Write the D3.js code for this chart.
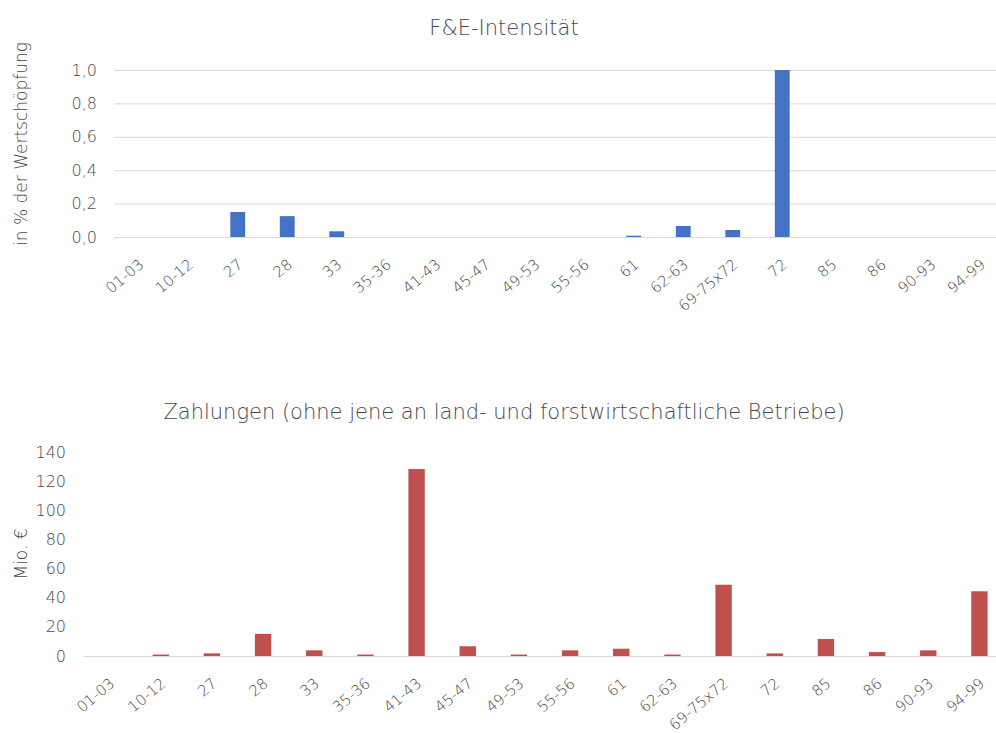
<!DOCTYPE html>
<html>
<head>
<meta charset="utf-8">
<script src="https://cdn.jsdelivr.net/npm/d3@7"></script>
<style>
    body { margin: 0; background: #fff; }
    text { font-family: "DejaVu Sans", sans-serif; font-weight: 200; fill: #484848; }
</style>
</head>
<body>
<div id="graphContainer"></div>
<script>
"use strict";
(function () {
    // branch codes shared by both charts
    const categories = ["01-03", "10-12", "27", "28", "33", "35-36", "41-43", "45-47", "49-53",
        "55-56", "61", "62-63", "69-75x72", "72", "85", "86", "90-93", "94-99"]
    // F&E-Intensität, in % der Wertschöpfung
    const intensity = [0, 0, 0.15, 0.125, 0.034, 0, 0, 0, 0, 0, 0.008, 0.066, 0.042, 1.0, 0, 0, 0, 0]
    // Zahlungen, Mio. €
    const payments = [0, 1, 1.8, 15.2, 3.9, 1, 128.3, 6.7, 1, 3.9, 5, 1, 48.9, 1.8, 11.7, 2.7, 3.9, 44.4]
    const intensityTicks = [0, 0.2, 0.4, 0.6, 0.8, 1.0]
    const paymentTicks = [0, 20, 40, 60, 80, 100, 120, 140]

    const svg = d3.select('#graphContainer').append('svg')
        .attr('width', 996)
        .attr('height', 733)

    const comma = d3.format(".1f")

    drawChart({
        title: "F&E-Intensität", titleY: 35,
        yLabel: "in % der Wertschöpfung", yLabelX: 27, yLabelY: 144,
        left: 114, right: 1005, top: 70, bottom: 237,
        domain: [0, 1], ticks: intensityTicks, tickFmt: d => comma(d).replace(".", ","),
        tickX: 97, values: intensity, color: "#4472C4", grid: true, pad: 0.7
    })

    drawChart({
        title: "Zahlungen (ohne jene an land- und forstwirtschaftliche Betriebe)", titleY: 419,
        yLabel: "Mio. €", yLabelX: 27, yLabelY: 554,
        left: 84, right: 1005, top: 452, bottom: 656,
        domain: [0, 140], ticks: paymentTicks, tickFmt: d => d,
        tickX: 66, values: payments, color: "#C0504D", grid: false, pad: 0.68
    })

    function drawChart(o) {
        const g = svg.append('g')
        const scaleX = d3.scaleBand()
            .domain(categories)
            .range([o.left, o.right])
            .paddingInner(o.pad)
            .paddingOuter(o.pad / 2)
        const scaleY = d3.scaleLinear()
            .domain(o.domain)
            .range([o.bottom, o.top])

        // gridlines (top chart) or just the baseline (bottom chart)
        const lines = o.grid ? o.ticks : [0]
        g.selectAll('.grid').data(lines).enter().append('line')
            .attr('x1', o.left).attr('x2', o.right)
            .attr('y1', d => scaleY(d) + 0.5).attr('y2', d => scaleY(d) + 0.5)
            .attr('stroke', '#d9d9d9').attr('stroke-width', 1)

        // y tick labels
        g.selectAll('.ytick').data(o.ticks).enter().append('text')
            .attr('x', o.tickX)
            .attr('y', d => scaleY(d))
            .attr('dy', '0.35em')
            .attr('text-anchor', 'end')
            .style('font-size', '16px')
            .text(o.tickFmt)

        g.selectAll('.bar').data(o.values).enter().append('rect')
            .attr('x', (d, i) => scaleX(categories[i]))
            .attr('width', scaleX.bandwidth())
            .attr('y', d => scaleY(d))
            .attr('height', d => o.bottom - scaleY(d))
            .attr('fill', o.color)

        // rotated category labels
        g.selectAll('.xtick').data(categories).enter().append('text')
            .attr('transform', d => `translate(${scaleX(d) + scaleX.bandwidth() / 2 + 6},${o.bottom + 29}) rotate(-40)`)
            .attr('text-anchor', 'end')
            .style('font-size', '15px')
            .text(d => d)

        g.append('text')
            .attr('x', 504).attr('y', o.titleY)
            .attr('text-anchor', 'middle')
            .style('font-size', '21px')
            .text(o.title)

        g.append('text')
            .attr('transform', `translate(${o.yLabelX},${o.yLabelY}) rotate(-90)`)
            .attr('text-anchor', 'middle')
            .style('font-size', '17px')
            .text(o.yLabel)
    }
})()
</script>
</body>
</html>
